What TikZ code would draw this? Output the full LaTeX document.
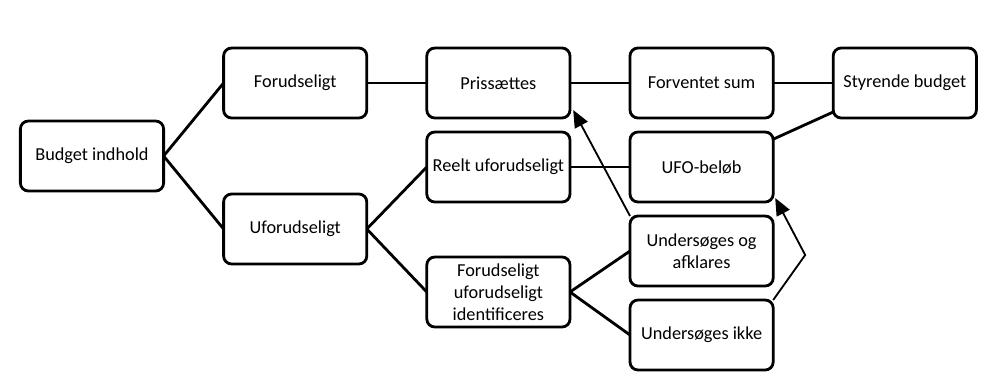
\documentclass[tikz,border=0pt]{standalone}
\usepackage{fontspec}
\setmainfont{Carlito}
\usepackage{tikz}
\usetikzlibrary{positioning, calc, arrows.meta}

\begin{document}
\begin{tikzpicture}[
					node distance=0.35cm and 1.5cm,
					box/.style={draw=black, line width=2pt, rounded corners=2mm, fill=white, minimum width=3.58cm, minimum height=1.75cm, outer sep=0pt, align=center, font=\fontsize{13}{15.5}\selectfont, inner sep=2pt},
					link/.style={black, line width=2pt},
					arrow/.style={-{Triangle[length=0.43cm,width=0.36cm]}, black, line width=1.3pt}
				]
				\path[use as bounding box] (0,0) rectangle (24.925,-9.775);

				% Root and first split
				\node[box] (budget) at (2.3,-3.9) {Budget indhold};
				\node[box, right=of budget, yshift=1.825cm] (forud) {Forudseligt};
				\node[box, right=of budget, yshift=-1.825cm] (uforud) {Uforudseligt};

				% Top row
				\node[box, right=of forud] (pris) {Prissættes};
				\node[box, right=of pris] (forv) {Forventet sum};
				\node[box, right=of forv] (styr) {Styrende budget};

				% Unforeseen branch
				\node[box, below=of pris] (reelt) {Reelt uforudseligt};
				\node[box, below=of forv] (ufo) {UFO-beløb};
				\node[box, right=of uforud, yshift=-1.575cm] (ident) {Forudseligt\\uforudseligt\\identificeres};
				\node[box, below=of ufo] (afklar) {Undersøges og\\afklares};
				\node[box, below=0.35cm of afklar] (ikke) {Undersøges ikke};
				\coordinate (knick) at ($(afklar.east)+(0.8,-0.1)$);

				% Lines
				\draw[link] (budget.east) -- (forud.west);
				\draw[link] (budget.east) -- (uforud.west);
				\draw[link] (forud) -- (pris);
				\draw[link] (pris) -- (forv);
				\draw[link] (forv) -- (styr);
				\draw[link] (uforud.east) -- (reelt.west);
				\draw[link] (uforud.east) -- (ident.west);
				\draw[link] (reelt) -- (ufo);
				\draw[link] ($(ufo.north east)+(0,-0.18)$) -- ($(styr.south west)+(0,0.15)$);
				\draw[link] (ident.east) -- (afklar.west);
				\draw[link] (ident.east) -- (ikke.west);

				% Arrows
				\draw[arrow] (afklar.north west) -- ($(pris.south east)+(0.08,0.2)$);
				\draw[arrow] (ikke.north east) -- (knick) -- ($(ufo.south east)+(0.05,0.1)$);

			\end{tikzpicture}
\end{document}
